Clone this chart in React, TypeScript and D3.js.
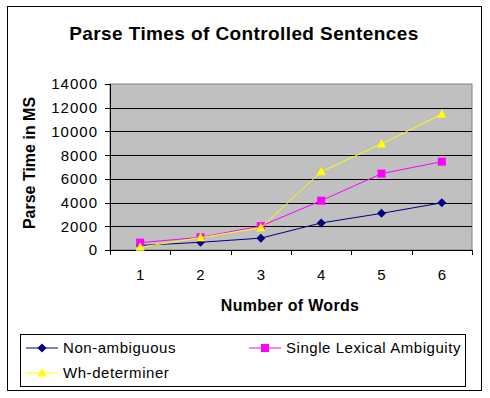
import React from "react";
import * as d3 from "d3";

const categories = ["1", "2", "3", "4", "5", "6"];
const nonAmbiguous = [380, 650, 1000, 2280, 3090, 3980];
const singleLexical = [620, 1070, 2020, 4160, 6440, 7450];
const whDeterminer = [230, 1040, 1880, 6600, 8950, 11450];
const yTicks = [0, 2000, 4000, 6000, 8000, 10000, 12000, 14000];

const series = [
  { name: "Non-ambiguous", values: nonAmbiguous, color: "#000080", marker: "diamond" },
  { name: "Single Lexical Ambiguity", values: singleLexical, color: "#FF00FF", marker: "square" },
  { name: "Wh-determiner", values: whDeterminer, color: "#FFFF00", marker: "triangle" },
];

const FONT = "'Liberation Sans', Arial, sans-serif";

function Marker({ type, x, y, color }: { type: string; x: number; y: number; color: string }) {
  if (type === "diamond") {
    return <path d={`M${x},${y - 4.5}L${x + 4.5},${y}L${x},${y + 4.5}L${x - 4.5},${y}Z`} fill={color} />;
  }
  if (type === "square") {
    return <rect x={x - 4} y={y - 4} width={8} height={8} fill={color} />;
  }
  return <path d={`M${x},${y - 5}L${x + 4.5},${y + 3.5}L${x - 4.5},${y + 3.5}Z`} fill={color} />;
}

export default function App() {
  const left = 110, right = 472, top = 84, bottom = 250;
  const x = d3.scaleBand<string>().domain(categories).range([left, right]);
  const y = d3.scaleLinear().domain([0, 14000]).range([bottom, top]);
  const cx = (c: string) => (x(c) as number) + x.bandwidth() / 2;
  const line = d3
    .line<number>()
    .x((_, i) => cx(categories[i]))
    .y((d) => y(d));

  const xEdges = categories.map((c) => x(c) as number).concat([right]);

  const legendItems = [
    { s: series[0], lx: 26, ly: 348 },
    { s: series[1], lx: 249, ly: 348 },
    { s: series[2], lx: 26, ly: 373 },
  ];

  return (
    <svg
      width={490}
      height={398}
      style={{ position: "absolute", left: 0, top: 0, background: "#fff" }}
      fontFamily={FONT}
    >
      <rect x={0} y={0} width={490} height={398} fill="#fff" />
      <rect x={7.5} y={6.5} width={474} height={384} fill="#fff" stroke="#000" strokeWidth={1} />
      <text x={244} y={40} textAnchor="middle" fontSize={19} fontWeight="bold" letterSpacing={0.4} fill="#000">
        Parse Times of Controlled Sentences
      </text>

      {/* plot area */}
      <rect x={left} y={top} width={right - left} height={bottom - top} fill="#C0C0C0" stroke="#808080" strokeWidth={1} />
      {yTicks.slice(1, -1).map((t) => (
        <line key={t} x1={left} x2={right} y1={Math.round(y(t)) + 0.5} y2={Math.round(y(t)) + 0.5} stroke="#000" strokeWidth={1} />
      ))}
      {/* axes */}
      <line x1={left + 0.5} x2={left + 0.5} y1={top} y2={bottom} stroke="#000" />
      <line x1={left} x2={right} y1={bottom + 0.5} y2={bottom + 0.5} stroke="#000" />
      {yTicks.map((t) => (
        <g key={t}>
          <line x1={left - 5} x2={left} y1={Math.round(y(t)) + 0.5} y2={Math.round(y(t)) + 0.5} stroke="#000" />
          <text x={98} y={y(t)} dy="0.36em" textAnchor="end" fontSize={15} letterSpacing={1} fill="#000">
            {t}
          </text>
        </g>
      ))}
      {xEdges.map((e, i) => (
        <line key={i} x1={Math.round(e) + 0.5} x2={Math.round(e) + 0.5} y1={bottom} y2={bottom + 5} stroke="#000" />
      ))}
      {categories.map((c) => (
        <text key={c} x={cx(c)} y={275} dy="0.36em" textAnchor="middle" fontSize={15} fill="#000">
          {c}
        </text>
      ))}
      <text x={290} y={305} dy="0.36em" textAnchor="middle" fontSize={16} fontWeight="bold" letterSpacing={0.3} fill="#000">
        Number of Words
      </text>
      <text
        transform={`translate(29,163) rotate(-90)`}
        textAnchor="middle"
        dy="0.36em"
        fontSize={16}
        fontWeight="bold"
        fill="#000"
      >
        Parse Time in MS
      </text>

      {/* series */}
      {series.map((s) => (
        <g key={s.name}>
          <path d={line(s.values) as string} fill="none" stroke={s.color} strokeWidth={1} />
          {s.values.map((v, i) => (
            <Marker key={i} type={s.marker} x={cx(categories[i])} y={y(v)} color={s.color} />
          ))}
        </g>
      ))}

      {/* legend */}
      <rect x={20.5} y={334.5} width={445} height={52} fill="#fff" stroke="#000" strokeWidth={1} />
      {legendItems.map(({ s, lx, ly }) => (
        <g key={s.name}>
          <line x1={lx} x2={lx + 32} y1={ly} y2={ly} stroke={s.color} strokeWidth={1} />
          <Marker type={s.marker} x={lx + 16} y={ly} color={s.color} />
          <text x={lx + 37} y={ly} dy="0.36em" fontSize={15} letterSpacing={0.55} fill="#000">
            {s.name}
          </text>
        </g>
      ))}
    </svg>
  );
}
